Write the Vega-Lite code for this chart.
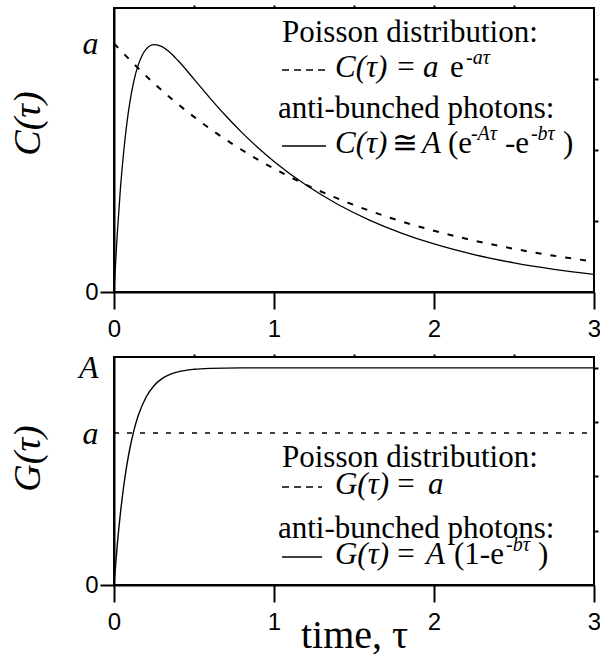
{
  "$schema": "https://vega.github.io/schema/vega-lite/v6.json",
  "background": "white",
  "padding": {"left": 8, "top": 3, "right": 2, "bottom": 2},
  "spacing": 65,
  "bounds": "flush",
  "config": {
    "view": {"stroke": "black", "strokeWidth": 2},
    "axis": {
      "grid": false,
      "domainColor": "black",
      "domainWidth": 2,
      "tickColor": "black",
      "tickWidth": 2,
      "labelColor": "black",
      "titleColor": "black",
      "labelFont": "Liberation Sans",
      "labelFontSize": 24,
      "titleFont": "Liberation Serif",
      "titleFontWeight": "normal"
    }
  },
  "datasets": {
    "abC": [
      {"x": 0, "y": 0}, {"x": 0.02, "y": 0.1615}, {"x": 0.04, "y": 0.2905}, {"x": 0.06, "y": 0.393},
      {"x": 0.08, "y": 0.4738}, {"x": 0.1, "y": 0.537}, {"x": 0.125, "y": 0.596}, {"x": 0.15, "y": 0.6376},
      {"x": 0.175, "y": 0.6657}, {"x": 0.2, "y": 0.6834}, {"x": 0.25, "y": 0.6967}, {"x": 0.3, "y": 0.691},
      {"x": 0.35, "y": 0.6745}, {"x": 0.4, "y": 0.652}, {"x": 0.5, "y": 0.5998}, {"x": 0.6, "y": 0.5463},
      {"x": 0.7, "y": 0.4957}, {"x": 0.8, "y": 0.449}, {"x": 0.9, "y": 0.4065}, {"x": 1.0, "y": 0.3678},
      {"x": 1.2, "y": 0.3012}, {"x": 1.4, "y": 0.2466}, {"x": 1.6, "y": 0.2019}, {"x": 1.8, "y": 0.1653},
      {"x": 2.0, "y": 0.1353}, {"x": 2.25, "y": 0.1054}, {"x": 2.5, "y": 0.0821}, {"x": 2.75, "y": 0.0639},
      {"x": 3.0, "y": 0.0498}
    ],
    "poisC": [
      {"x": 0, "y": 0.7}, {"x": 0.25, "y": 0.5876}, {"x": 0.5, "y": 0.4933}, {"x": 0.75, "y": 0.4141},
      {"x": 1.0, "y": 0.3476}, {"x": 1.25, "y": 0.2918}, {"x": 1.5, "y": 0.245}, {"x": 1.75, "y": 0.2056},
      {"x": 2.0, "y": 0.1726}, {"x": 2.25, "y": 0.1449}, {"x": 2.5, "y": 0.1216}, {"x": 2.75, "y": 0.1021},
      {"x": 3.0, "y": 0.0857}
    ],
    "abG": [
      {"x": 0, "y": 0}, {"x": 0.02, "y": 0.1813}, {"x": 0.04, "y": 0.3297}, {"x": 0.06, "y": 0.4512},
      {"x": 0.08, "y": 0.5507}, {"x": 0.1, "y": 0.6321}, {"x": 0.125, "y": 0.7135}, {"x": 0.15, "y": 0.7769},
      {"x": 0.2, "y": 0.8647}, {"x": 0.25, "y": 0.9179}, {"x": 0.3, "y": 0.9502}, {"x": 0.35, "y": 0.9698},
      {"x": 0.4, "y": 0.9817}, {"x": 0.5, "y": 0.9933}, {"x": 0.6, "y": 0.9975}, {"x": 0.8, "y": 0.9997},
      {"x": 1.0, "y": 1.0}, {"x": 2.0, "y": 1.0}, {"x": 3.0, "y": 1.0}
    ],
    "poisG": [{"x": 0, "y": 0.7}, {"x": 3, "y": 0.7}],
    "keyC_dash": [{"x": 1.05, "x2": 1.331, "y": 0.6254}],
    "keyC_solid": [{"x": 1.05, "x2": 1.325, "y": 0.4113}],
    "keyG_dash": [{"x": 1.05, "x2": 1.3, "y": 0.4516}],
    "keyG_solid": [{"x": 1.05, "x2": 1.3, "y": 0.129}],
    "txtC_roman": [
      {"x": 1.05, "y": 0.7042, "t": "Poisson distribution:"},
      {"x": 1.77, "y": 0.6056, "t": "="},
      {"x": 2.1, "y": 0.6056, "t": "e"},
      {"x": 1.025, "y": 0.4901, "t": "anti-bunched photons:"},
      {"x": 1.74, "y": 0.3915, "t": "≅"},
      {"x": 2.0875, "y": 0.3915, "t": "(e"},
      {"x": 2.444, "y": 0.3915, "t": "-e"},
      {"x": 2.806, "y": 0.3915, "t": ")"}
    ],
    "txtC_italic": [
      {"x": 1.381, "y": 0.6056, "t": "C(τ)"},
      {"x": 1.931, "y": 0.6056, "t": "a"},
      {"x": 1.381, "y": 0.3915, "t": "C(τ)"},
      {"x": 1.925, "y": 0.3915, "t": "A"}
    ],
    "txtC_sup": [
      {"x": 2.2, "y": 0.6423, "t": "-aτ"},
      {"x": 2.231, "y": 0.4282, "t": "-Aτ"},
      {"x": 2.606, "y": 0.4282, "t": "-bτ"}
    ],
    "txtG_roman": [
      {"x": 1.05, "y": 0.5438, "t": "Poisson distribution:"},
      {"x": 1.77, "y": 0.4194, "t": "="},
      {"x": 1.025, "y": 0.2166, "t": "anti-bunched photons:"},
      {"x": 1.77, "y": 0.0968, "t": "="},
      {"x": 2.125, "y": 0.0968, "t": "(1-e"},
      {"x": 2.65, "y": 0.0968, "t": ")"}
    ],
    "txtG_italic": [
      {"x": 1.381, "y": 0.4194, "t": "G(τ)"},
      {"x": 1.9625, "y": 0.4194, "t": "a"},
      {"x": 1.381, "y": 0.0968, "t": "G(τ)"},
      {"x": 1.95, "y": 0.0968, "t": "A"}
    ],
    "txtG_sup": [
      {"x": 2.45, "y": 0.1567, "t": "-bτ"}
    ]
  },
  "vconcat": [
    {
      "width": 480,
      "height": 284,
      "resolve": {"axis": {"x": "independent", "y": "independent"}},
      "layer": [
        {
          "data": {"name": "abC"},
          "mark": {"type": "line", "color": "black", "strokeWidth": 1.3, "interpolate": "monotone"},
          "encoding": {
            "x": {
              "field": "x", "type": "quantitative", "scale": {"domain": [0, 3]},
              "axis": {
                "orient": "bottom", "title": null, "format": "d",
                "values": [0, 0.5, 1, 1.5, 2, 2.5, 3],
                "labelExpr": "datum.value % 1 === 0 ? datum.label : ''",
                "tickSize": {"condition": {"test": "datum.value % 1 === 0", "value": 17}, "value": 10},
                "labelPadding": 8, "labelFlush": false, "labelOverlap": false
              }
            },
            "y": {
              "field": "y", "type": "quantitative", "scale": {"domain": [0, 0.8]},
              "axis": {
                "orient": "left",
                "values": [0, 0.7],
                "labelExpr": "datum.value == 0 ? '0' : 'a'",
                "labelFont": {"condition": {"test": "datum.value == 0", "value": "Liberation Sans"}, "value": "Liberation Serif"},
                "labelFontStyle": {"condition": {"test": "datum.value == 0", "value": "normal"}, "value": "italic"},
                "labelFontSize": {"condition": {"test": "datum.value == 0", "value": 24}, "value": 32},
                "tickOpacity": {"condition": {"test": "datum.value == 0", "value": 1}, "value": 0},
                "tickSize": 14, "labelPadding": 2,
                "title": "C(τ)", "titleFontStyle": "italic", "titleFontSize": 38,
                "titleX": -67, "titleY": 115, "titleAngle": -90, "titleBaseline": "bottom", "titleAlign": "center"
              }
            }
          }
        },
        {
          "data": {"name": "poisC"},
          "mark": {"type": "line", "color": "black", "strokeWidth": 2, "strokeDash": [6, 9], "interpolate": "monotone"},
          "encoding": {
            "x": {
              "field": "x", "type": "quantitative", "scale": {"domain": [0, 3]},
              "axis": {"orient": "top", "title": null, "values": [0.5, 1, 1.5, 2, 2.5], "tickSize": 3, "labels": false, "domain": false}
            },
            "y": {
              "field": "y", "type": "quantitative", "scale": {"domain": [0, 0.8]},
              "axis": {"orient": "right", "title": null, "values": [0.2, 0.4, 0.6], "tickSize": 4, "labels": false, "domain": false}
            }
          }
        },
        {
          "data": {"name": "keyC_dash"},
          "mark": {"type": "rule", "color": "black", "strokeWidth": 1.5, "strokeDash": [7, 5]},
          "encoding": {
            "x": {"field": "x", "type": "quantitative", "scale": {"domain": [0, 3]}, "axis": null},
            "x2": {"field": "x2"},
            "y": {"field": "y", "type": "quantitative", "scale": {"domain": [0, 0.8]}, "axis": null}
          }
        },
        {
          "data": {"name": "keyC_solid"},
          "mark": {"type": "rule", "color": "black", "strokeWidth": 1.3},
          "encoding": {
            "x": {"field": "x", "type": "quantitative", "scale": {"domain": [0, 3]}, "axis": null},
            "x2": {"field": "x2"},
            "y": {"field": "y", "type": "quantitative", "scale": {"domain": [0, 0.8]}, "axis": null}
          }
        },
        {
          "data": {"name": "txtC_roman"},
          "mark": {"type": "text", "align": "left", "baseline": "alphabetic", "font": "Liberation Serif", "fontSize": 31, "color": "black"},
          "encoding": {
            "x": {"field": "x", "type": "quantitative", "scale": {"domain": [0, 3]}, "axis": null},
            "y": {"field": "y", "type": "quantitative", "scale": {"domain": [0, 0.8]}, "axis": null},
            "text": {"field": "t"}
          }
        },
        {
          "data": {"name": "txtC_italic"},
          "mark": {"type": "text", "align": "left", "baseline": "alphabetic", "font": "Liberation Serif", "fontStyle": "italic", "fontSize": 31, "color": "black"},
          "encoding": {
            "x": {"field": "x", "type": "quantitative", "scale": {"domain": [0, 3]}, "axis": null},
            "y": {"field": "y", "type": "quantitative", "scale": {"domain": [0, 0.8]}, "axis": null},
            "text": {"field": "t"}
          }
        },
        {
          "data": {"name": "txtC_sup"},
          "mark": {"type": "text", "align": "left", "baseline": "alphabetic", "font": "Liberation Serif", "fontStyle": "italic", "fontSize": 20, "color": "black"},
          "encoding": {
            "x": {"field": "x", "type": "quantitative", "scale": {"domain": [0, 3]}, "axis": null},
            "y": {"field": "y", "type": "quantitative", "scale": {"domain": [0, 0.8]}, "axis": null},
            "text": {"field": "t"}
          }
        }
      ]
    },
    {
      "width": 480,
      "height": 228,
      "resolve": {"axis": {"x": "independent", "y": "independent"}},
      "layer": [
        {
          "data": {"name": "abG"},
          "mark": {"type": "line", "color": "black", "strokeWidth": 1.4, "interpolate": "monotone"},
          "encoding": {
            "x": {
              "field": "x", "type": "quantitative", "scale": {"domain": [0, 3]},
              "axis": {
                "orient": "bottom", "format": "d",
                "values": [0, 0.5, 1, 1.5, 2, 2.5, 3],
                "labelExpr": "datum.value % 1 === 0 ? datum.label : ''",
                "tickSize": {"condition": {"test": "datum.value % 1 === 0", "value": 17}, "value": 10},
                "labelPadding": 8, "labelFlush": false, "labelOverlap": false,
                "title": "time, τ", "titleFontSize": 40, "titleY": 62, "titleBaseline": "alphabetic"
              }
            },
            "y": {
              "field": "y", "type": "quantitative", "scale": {"domain": [0, 1.05]},
              "axis": {
                "orient": "left",
                "values": [0, 0.7, 1],
                "labelExpr": "datum.value == 0 ? '0' : (datum.value == 1 ? 'A' : 'a')",
                "labelFont": {"condition": {"test": "datum.value == 0", "value": "Liberation Sans"}, "value": "Liberation Serif"},
                "labelFontStyle": {"condition": {"test": "datum.value == 0", "value": "normal"}, "value": "italic"},
                "labelFontSize": {"condition": {"test": "datum.value == 0", "value": 24}, "value": 32},
                "tickOpacity": {"condition": {"test": "datum.value == 0", "value": 1}, "value": 0},
                "tickSize": 14, "labelPadding": 2,
                "title": "G(τ)", "titleFontStyle": "italic", "titleFontSize": 38,
                "titleX": -67, "titleY": 101, "titleAngle": -90, "titleBaseline": "bottom", "titleAlign": "center"
              }
            }
          }
        },
        {
          "data": {"name": "poisG"},
          "mark": {"type": "line", "color": "black", "strokeWidth": 1.3, "strokeDash": [5, 8]},
          "encoding": {
            "x": {
              "field": "x", "type": "quantitative", "scale": {"domain": [0, 3]},
              "axis": {"orient": "top", "title": null, "values": [0.5, 1, 1.5, 2, 2.5], "tickSize": 3, "labels": false, "domain": false}
            },
            "y": {
              "field": "y", "type": "quantitative", "scale": {"domain": [0, 1.05]},
              "axis": {"orient": "right", "title": null, "values": [0.25, 0.5, 0.75, 1], "tickSize": 4, "labels": false, "domain": false}
            }
          }
        },
        {
          "data": {"name": "keyG_dash"},
          "mark": {"type": "rule", "color": "black", "strokeWidth": 1.5, "strokeDash": [7, 5]},
          "encoding": {
            "x": {"field": "x", "type": "quantitative", "scale": {"domain": [0, 3]}, "axis": null},
            "x2": {"field": "x2"},
            "y": {"field": "y", "type": "quantitative", "scale": {"domain": [0, 1.05]}, "axis": null}
          }
        },
        {
          "data": {"name": "keyG_solid"},
          "mark": {"type": "rule", "color": "black", "strokeWidth": 1.3},
          "encoding": {
            "x": {"field": "x", "type": "quantitative", "scale": {"domain": [0, 3]}, "axis": null},
            "x2": {"field": "x2"},
            "y": {"field": "y", "type": "quantitative", "scale": {"domain": [0, 1.05]}, "axis": null}
          }
        },
        {
          "data": {"name": "txtG_roman"},
          "mark": {"type": "text", "align": "left", "baseline": "alphabetic", "font": "Liberation Serif", "fontSize": 31, "color": "black"},
          "encoding": {
            "x": {"field": "x", "type": "quantitative", "scale": {"domain": [0, 3]}, "axis": null},
            "y": {"field": "y", "type": "quantitative", "scale": {"domain": [0, 1.05]}, "axis": null},
            "text": {"field": "t"}
          }
        },
        {
          "data": {"name": "txtG_italic"},
          "mark": {"type": "text", "align": "left", "baseline": "alphabetic", "font": "Liberation Serif", "fontStyle": "italic", "fontSize": 31, "color": "black"},
          "encoding": {
            "x": {"field": "x", "type": "quantitative", "scale": {"domain": [0, 3]}, "axis": null},
            "y": {"field": "y", "type": "quantitative", "scale": {"domain": [0, 1.05]}, "axis": null},
            "text": {"field": "t"}
          }
        },
        {
          "data": {"name": "txtG_sup"},
          "mark": {"type": "text", "align": "left", "baseline": "alphabetic", "font": "Liberation Serif", "fontStyle": "italic", "fontSize": 20, "color": "black"},
          "encoding": {
            "x": {"field": "x", "type": "quantitative", "scale": {"domain": [0, 3]}, "axis": null},
            "y": {"field": "y", "type": "quantitative", "scale": {"domain": [0, 1.05]}, "axis": null},
            "text": {"field": "t"}
          }
        }
      ]
    }
  ]
}
